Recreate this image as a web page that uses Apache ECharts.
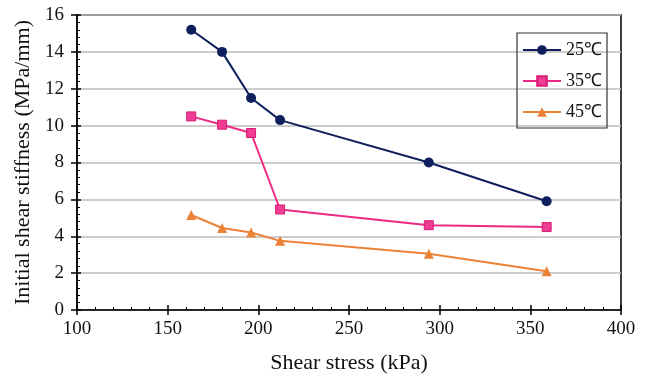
<!DOCTYPE html>
<html>
<head>
<meta charset="utf-8">
<script src="https://cdn.jsdelivr.net/npm/echarts@6/dist/echarts.min.js"></script>
<style>
  html, body { margin: 0; padding: 0; background: #fff; }
  #chart { width: 652px; height: 374px; }
</style>
</head>
<body>
<div id="chart"></div>
<script>
// Shear stress (kPa) at which each test was run
const shearStress = [163, 180, 196, 212, 294, 359];
// Initial shear stiffness (MPa/mm) per temperature
const stiff25 = [15.2, 14.0, 11.5, 10.3, 8.0, 5.9];
const stiff35 = [10.5, 10.05, 9.6, 5.45, 4.6, 4.5];
const stiff45 = [5.15, 4.45, 4.2, 3.75, 3.05, 2.1];
const seriesNames = ['25℃', '35℃', '45℃'];

const pair = (ys) => shearStress.map((x, i) => [x, ys[i]]);
const font = 'Liberation Serif, Times New Roman, serif';
const ink = '#111';

// Shared scale settings; the second copy of each axis only draws the inner ticks
const xScale = { type: 'value', min: 100, max: 400, interval: 50 };
const yScale = { type: 'value', min: 0, max: 16, interval: 2 };

const chart = echarts.init(document.getElementById('chart'));
chart.setOption({
  animation: false,
  backgroundColor: '#fff',
  textStyle: { fontFamily: font },
  grid: {
    left: 77, right: 31, top: 15, bottom: 64,
    outerBoundsMode: 'none',
    containLabel: false,
    show: true, borderColor: '#000', borderWidth: 1.5
  },
  legend: {
    orient: 'vertical',
    left: 517,
    top: 33,
    padding: [8, 5, 7, 5],
    itemGap: 13,
    itemWidth: 38,
    itemHeight: 12,
    borderColor: '#333',
    borderWidth: 1.2,
    textStyle: { fontFamily: font, fontSize: 18, lineHeight: 18, color: ink },
    data: seriesNames
  },
  xAxis: [
    Object.assign({}, xScale, {
      position: 'bottom',
      name: 'Shear stress (kPa)',
      nameLocation: 'middle',
      nameGap: 42,
      nameTextStyle: { fontFamily: font, fontSize: 22, color: ink },
      axisLine: { lineStyle: { color: '#000', width: 1.5 } },
      axisTick: { show: true, length: 5, lineStyle: { color: '#000', width: 1.5 } },
      axisLabel: { fontFamily: font, fontSize: 19, color: ink, margin: 10 },
      splitLine: { show: false }
    }),
    Object.assign({}, xScale, {
      position: 'bottom',
      axisLine: { show: false },
      axisTick: { show: true, inside: true, length: 5, lineStyle: { color: '#000', width: 1.5 } },
      minorTick: { show: true, splitNumber: 5, length: 3, lineStyle: { color: '#000', width: 1 } },
      axisLabel: { show: false },
      splitLine: { show: false }
    })
  ],
  yAxis: [
    Object.assign({}, yScale, {
      position: 'left',
      name: 'Initial shear stiffness (MPa/mm)',
      nameLocation: 'middle',
      nameGap: 41,
      nameTextStyle: { fontFamily: font, fontSize: 22, color: ink },
      axisLine: { lineStyle: { color: '#000', width: 1.5 } },
      axisTick: { show: true, length: 6, lineStyle: { color: '#000', width: 1.5 } },
      axisLabel: { fontFamily: font, fontSize: 19, color: ink, margin: 13 },
      splitLine: { show: true, lineStyle: { color: '#bdbdbd', width: 1.5 } }
    }),
    Object.assign({}, yScale, {
      position: 'left',
      axisLine: { show: false },
      axisTick: { show: true, inside: true, length: 4, lineStyle: { color: '#000', width: 1.5 } },
      minorTick: { show: true, splitNumber: 5, length: 3, lineStyle: { color: '#000', width: 1 } },
      axisLabel: { show: false },
      splitLine: { show: false }
    })
  ],
  series: [
    {
      name: seriesNames[0], type: 'line', data: pair(stiff25),
      symbol: 'circle', symbolSize: 10,
      lineStyle: { color: '#0f1f5e', width: 2 },
      itemStyle: { color: '#0f1f5e' }
    },
    {
      name: seriesNames[1], type: 'line', data: pair(stiff35),
      symbol: 'rect', symbolSize: 9,
      lineStyle: { color: '#ec2a85', width: 2 },
      itemStyle: { color: '#ee3d93', borderColor: '#d81c74', borderWidth: 1 }
    },
    {
      name: seriesNames[2], type: 'line', data: pair(stiff45),
      symbol: 'triangle', symbolSize: 10,
      lineStyle: { color: '#ec8236', width: 2 },
      itemStyle: { color: '#ec8236' }
    }
  ]
});
</script>
</body>
</html>
